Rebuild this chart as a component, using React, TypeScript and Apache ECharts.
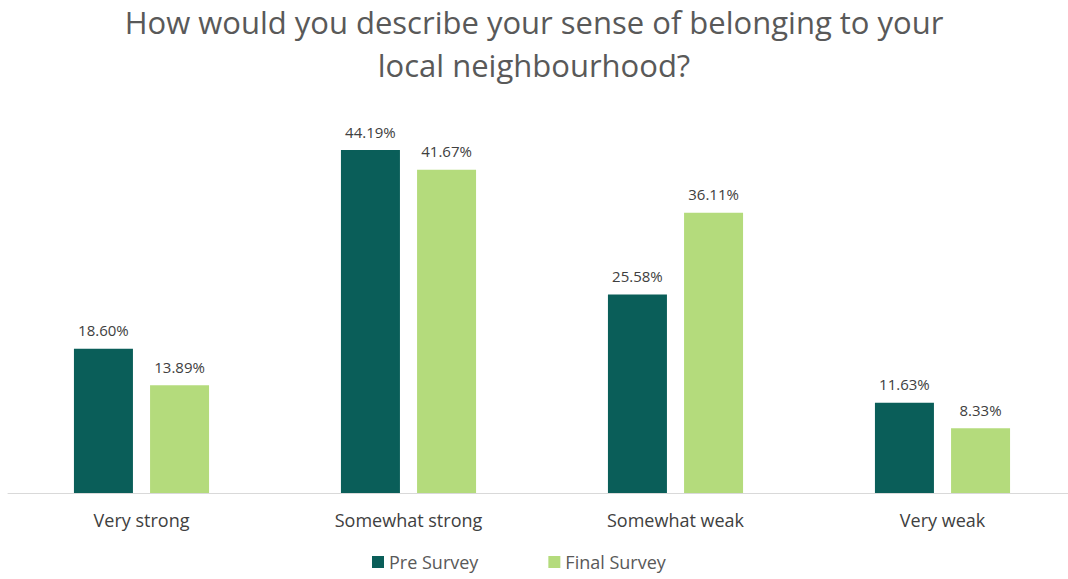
import React, { useEffect, useRef } from "react";
import * as echarts from "echarts";

const categories = ["Very strong", "Somewhat strong", "Somewhat weak", "Very weak"];
const preSurvey = [18.6, 44.19, 25.58, 11.63];
const finalSurvey = [13.89, 41.67, 36.11, 8.33];
const seriesNames = ["Pre Survey", "Final Survey"];
const titleText = "How would you describe your sense of belonging to your\nlocal neighbourhood?";

const DARK = "#0A5E59";
const LIGHT = "#B4DB7C";
const FONT = "'Open Sans', 'Noto Sans', sans-serif";

export default function App() {
  const ref = useRef<HTMLDivElement>(null);
  useEffect(() => {
    document.body.style.margin = "0";
    const chart = echarts.init(ref.current!, null, { renderer: "svg" });
    const label = {
      show: true,
      position: "top",
      distance: 11,
      color: "#404040",
      fontSize: 15,
      fontFamily: FONT,
      formatter: (p: any) => p.value.toFixed(2) + "%",
    };
    chart.setOption({
      animation: false,
      backgroundColor: "#ffffff",
      title: {
        text: titleText,
        left: 534,
        textAlign: "center",
        top: 0,
        padding: 0,
        textStyle: {
          fontSize: 31,
          fontWeight: "normal",
          color: "#595959",
          fontFamily: FONT,
          lineHeight: 43,
        },
      },
      legend: {
        data: seriesNames,
        top: 548,
        left: 367,
        itemWidth: 12,
        itemHeight: 12,
        itemGap: 70,
        icon: "rect",
        textStyle: { fontSize: 18, color: "#595959", fontFamily: FONT },
      },
      grid: { left: 8, width: 1068, top: 105, height: 388, containLabel: false },
      xAxis: {
        type: "category",
        data: categories,
        axisLine: { lineStyle: { color: "#D9D9D9", width: 1 } },
        axisTick: { show: false },
        axisLabel: { fontSize: 18, color: "#404040", fontFamily: FONT, margin: 18 },
      },
      yAxis: {
        type: "value",
        min: 0,
        max: 50,
        show: false,
        splitLine: { show: false },
      },
      series: [
        {
          name: seriesNames[0],
          type: "bar",
          data: preSurvey,
          barWidth: 59,
          barGap: "29%",
          itemStyle: { color: DARK },
          label,
        },
        {
          name: seriesNames[1],
          type: "bar",
          data: finalSurvey,
          barWidth: 59,
          barGap: "29%",
          itemStyle: { color: LIGHT },
          label,
        },
      ],
    });
    return () => chart.dispose();
  }, []);
  return (
    <div style={{ width: 1068, height: 579, overflow: "hidden", position: "relative" }}>
      <div ref={ref} style={{ width: 1085, height: 579 }} />
    </div>
  );
}
